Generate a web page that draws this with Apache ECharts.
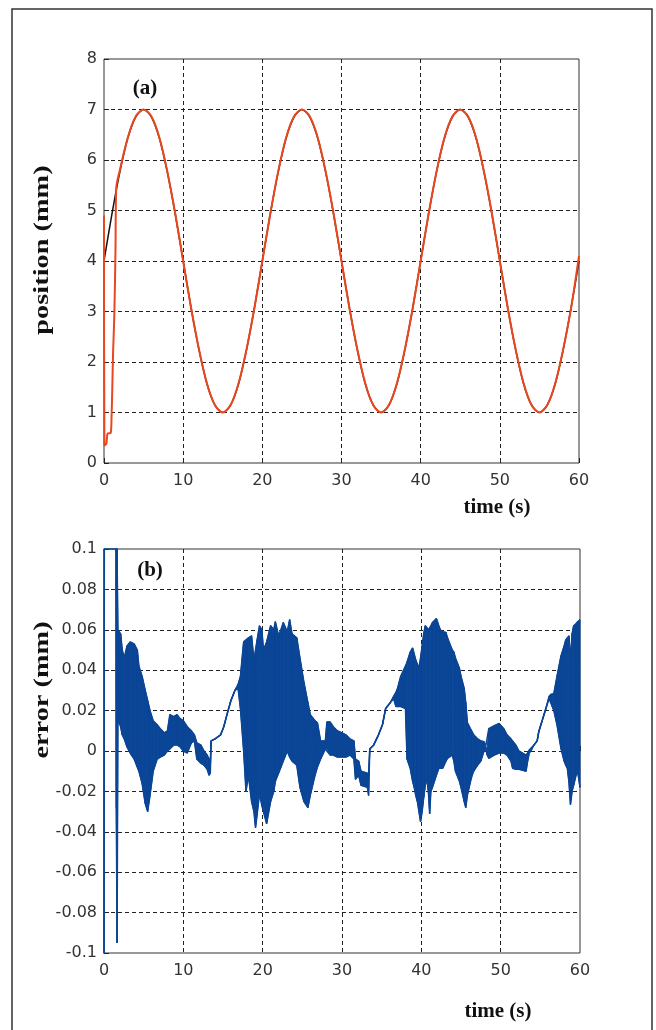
<!DOCTYPE html>
<html>
<head>
<meta charset="utf-8">
<script src="https://cdn.jsdelivr.net/npm/echarts@6/dist/echarts.min.js"></script>
<style>
  html, body { margin: 0; padding: 0; background: #fff; }
  #chart { width: 656px; height: 1030px; }
</style>
</head>
<body>
<div id="chart"></div>
<script>
// (a) position: reference (black) and measured (red)
const refTime = [0,1,2,3,4,5,6,7,8,9,10,11,12,13,14,15,16,17,18,19,20,21,22,23,24,25,26,27,28,29,30,
  31,32,33,34,35,36,37,38,39,40,41,42,43,44,45,46,47,48,49,50,51,52,53,54,55,56,57,58,59,60]
const refPos = [4.00,4.93,5.76,6.43,6.85,7.00,6.85,6.43,5.76,4.93,4.00,3.07,2.24,1.57,1.15,1.00,1.15,1.57,2.24,3.07,
  4.00,4.93,5.76,6.43,6.85,7.00,6.85,6.43,5.76,4.93,4.00,3.07,2.24,1.57,1.15,1.00,1.15,1.57,2.24,3.07,
  4.00,4.93,5.76,6.43,6.85,7.00,6.85,6.43,5.76,4.93,4.00,3.07,2.24,1.57,1.15,1.00,1.15,1.57,2.24,3.07,4.00]

const actTime = [0,0.05,0.3,0.45,0.85,0.95,1.05,1.15,1.3,1.45,1.55,2,3,4,5,6,7,8,9,10,
  11,12,13,14,15,16,17,18,19,20,21,22,23,24,25,26,27,28,29,30,
  31,32,33,34,35,36,37,38,39,40,41,42,43,44,45,46,47,48,49,50,51,52,53,54,55,56,57,58,59,60]
const actPos = [4.9,0.35,0.38,0.58,0.6,0.9,1.5,2.2,2.9,4.2,5.45,5.8,6.44,6.86,7.0,6.86,6.44,5.77,4.94,4.0,
  3.07,2.25,1.58,1.15,1.0,1.15,1.58,2.25,3.07,4.0,4.93,5.77,6.44,6.86,7.0,6.86,6.44,5.77,4.94,4.0,
  3.07,2.25,1.58,1.15,1.0,1.15,1.58,2.25,3.07,4.0,4.93,5.77,6.44,6.86,7.0,6.86,6.44,5.77,4.94,4.0,
  3.07,2.25,1.58,1.15,1.0,1.15,1.58,2.25,3.07,4.1]

// (b) tracking error: upper and lower envelope of the oscillation
const errTime = [0,0.05,1.5,1.55,1.65,1.75,2.1,2.3,2.55,2.9,3.3,3.8,4.2,4.4,4.8,5.2,5.5,5.8,6.2,6.7,7.1,7.6,8.0,8.3,8.8,9.2,9.6,10.0,
  10.5,11.0,11.4,11.7,12.2,12.6,13.0,13.25,13.4,13.5,14.0,14.7,15.1,15.5,16.0,16.5,16.9,17.2,17.6,17.9,18.2,18.6,18.9,19.1,19.3,19.6,19.9,
  20.1,20.5,21.0,21.4,21.6,22.0,22.3,22.6,23.1,23.4,23.7,24.3,24.7,25.2,25.7,26.0,26.6,26.9,27.3,27.9,28.1,28.5,28.9,29.4,30.0,
  30.5,31.0,31.5,31.7,32.1,32.4,33.2,33.35,33.5,34.0,34.6,35.1,35.5,36.1,36.5,36.8,37.0,37.4,38.0,38.2,38.6,38.9,39.1,39.3,39.5,39.7,39.9,
  40.1,40.3,40.5,40.7,40.9,41.05,41.2,41.4,41.9,42.2,42.4,42.7,43.1,43.3,43.5,43.9,44.1,44.3,44.8,45.0,45.4,45.6,45.8,46.2,46.4,46.6,47.1,
  47.5,47.9,48.1,48.3,48.5,49.2,49.8,50.4,50.8,51.3,51.5,51.9,52.3,53.2,53.4,53.6,53.8,54.2,54.6,54.8,55.7,56.1,56.3,56.7,57.1,57.6,
  58.0,58.2,58.4,58.6,58.8,59.0,59.2,59.5,59.7,60.0]
const errHi = [0.15,0.15,0.15,0.15,0.15,0.06,0.058,0.05,0.046,0.052,0.054,0.053,0.05,0.042,0.037,0.03,0.025,0.02,0.015,0.013,0.011,0.009,0.01,0.018,0.017,0.018,0.016,0.015,
  0.012,0.01,0.008,0.004,0.003,0.0,-0.002,-0.004,-0.006,0.005,0.006,0.008,0.012,0.018,0.025,0.03,0.033,0.037,0.054,0.055,0.056,0.057,0.045,0.05,0.055,0.062,0.06,
  0.05,0.054,0.062,0.06,0.064,0.057,0.06,0.0636,0.059,0.065,0.058,0.056,0.046,0.034,0.024,0.018,0.015,0.014,0.005,0.005,0.0144,0.0144,0.012,0.01,0.009,
  0.008,0.006,0.005,-0.004,-0.005,-0.01,-0.011,-0.012,0.001,0.003,0.008,0.013,0.021,0.024,0.027,0.029,0.031,0.037,0.042,0.044,0.049,0.051,0.048,0.045,0.043,0.041,0.046,
  0.052,0.058,0.062,0.061,0.06,0.061,0.062,0.0636,0.0656,0.062,0.06,0.059,0.0587,0.056,0.054,0.05,0.049,0.046,0.041,0.037,0.031,0.024,0.014,0.011,0.0095,0.008,0.006,
  0.005,0.0046,0.002,0.0013,0.011,0.0125,0.0136,0.011,0.008,0.006,0.005,0.003,0.0,-0.002,-0.001,0.0005,0.001,0.003,0.005,0.0095,0.021,0.027,0.028,0.0284,0.037,0.047,
  0.052,0.055,0.056,0.057,0.045,0.058,0.062,0.063,0.064,0.065]
const errLo = [-0.15,0.15,0.15,-0.028,-0.095,0.016,0.012,0.008,0.006,0.002,-0.001,-0.004,-0.008,-0.01,-0.016,-0.026,-0.03,-0.022,-0.01,-0.004,-0.003,-0.002,0.0,0.001,0.003,0.003,0.002,0.0,
  -0.001,0.004,0.005,-0.004,-0.006,-0.007,-0.009,-0.012,-0.011,0.005,0.006,0.008,0.012,0.018,0.025,0.03,0.031,0.021,0.0,-0.02,-0.012,-0.025,-0.03,-0.038,-0.0315,-0.021,-0.027,
  -0.03,-0.036,-0.025,-0.02,-0.015,-0.011,-0.008,-0.005,0.0,-0.003,-0.005,-0.007,-0.018,-0.025,-0.028,-0.022,-0.012,-0.008,-0.004,0.001,0.001,-0.002,-0.002,-0.003,-0.003,
  -0.003,-0.002,-0.004,-0.014,-0.012,-0.017,-0.018,-0.022,0.001,0.003,0.008,0.013,0.021,0.024,0.026,0.022,0.022,0.022,0.021,-0.004,-0.0085,-0.015,-0.018,-0.022,-0.025,-0.03,-0.035,
  -0.03,-0.023,-0.017,-0.0134,-0.021,-0.031,-0.02,-0.018,-0.012,-0.0085,-0.0085,-0.0085,-0.005,-0.0036,-0.003,-0.002,-0.005,-0.01,-0.015,-0.018,-0.025,-0.028,-0.022,-0.015,-0.012,-0.01,-0.007,
  -0.005,0.0,0.0013,-0.002,-0.0036,-0.002,-0.001,-0.001,-0.002,-0.005,-0.0085,-0.009,-0.009,-0.01,-0.005,-0.001,0.0,0.003,0.005,0.0095,0.021,0.026,0.024,0.02,0.013,0.0013,
  -0.005,-0.007,-0.0085,-0.015,-0.0266,-0.02,-0.017,-0.012,-0.01,-0.018]

const timeTicks = ['0', '10', '20', '30', '40', '50', '60']
const posTicks = ['0', '1', '2', '3', '4', '5', '6', '7', '8']
const errTicks = ['-0.1', '-0.08', '-0.06', '-0.04', '-0.02', '0', '0.02', '0.04', '0.06', '0.08', '0.1']

const RED = '#e9471e'
const BLUE = '#0b4596'
const tickFont = { color: '#333', fontSize: 16, fontFamily: 'DejaVu Sans' }
const titleFont = 'bold 21px "Liberation Serif"'
const gridLine = { show: true, showMinLine: false, showMaxLine: false, lineStyle: { color: '#222', type: [4, 3], width: 1 } }

function timeAxis(gridIndex) {
  return {
    type: 'value', gridIndex, min: 0, max: 60, interval: 10,
    axisLine: { show: false },
    axisTick: { show: true, inside: true, length: 5, lineStyle: { color: '#222' } },
    axisLabel: { ...tickFont, margin: 10, formatter: v => timeTicks[Math.round(v / 10)] },
    splitLine: gridLine
  }
}

// filled band between the two envelopes, one quad per interval
function renderBand(params, api) {
  const i = params.dataIndex
  if (i >= errTime.length - 1) return null
  const c = v => Math.max(-0.1, Math.min(0.1, v))
  const pts = [
    api.coord([errTime[i], c(errHi[i])]),
    api.coord([errTime[i + 1], c(errHi[i + 1])]),
    api.coord([errTime[i + 1], c(errLo[i + 1])]),
    api.coord([errTime[i], c(errLo[i])])
  ]
  return { type: 'polygon', shape: { points: pts }, style: { fill: BLUE, stroke: BLUE, lineWidth: 1 } }
}

const chart = echarts.init(document.getElementById('chart'), null, { renderer: 'canvas' })
chart.setOption({
  animation: false,
  backgroundColor: '#fff',
  grid: [
    { left: 104, top: 59, width: 475, height: 404, show: true, borderColor: '#333', borderWidth: 1 },
    { left: 104, top: 549, width: 476, height: 404, show: true, borderColor: '#333', borderWidth: 1 }
  ],
  xAxis: [timeAxis(0), timeAxis(1)],
  yAxis: [
    {
      type: 'value', gridIndex: 0, min: 0, max: 8, interval: 1,
      axisLine: { show: false },
      axisTick: { show: true, inside: true, length: 5, lineStyle: { color: '#222' } },
      axisLabel: { ...tickFont, margin: 7, formatter: v => posTicks[Math.round(v)] },
      splitLine: gridLine
    },
    {
      type: 'value', gridIndex: 1, min: -0.1, max: 0.1, interval: 0.02,
      axisLine: { show: false },
      axisTick: { show: true, inside: true, length: 5, lineStyle: { color: '#222' } },
      axisLabel: { ...tickFont, margin: 7, formatter: v => errTicks[Math.round((v + 0.1) / 0.02)] },
      splitLine: gridLine
    }
  ],
  series: [
    {
      name: 'reference', type: 'line', xAxisIndex: 0, yAxisIndex: 0,
      symbol: 'none', smooth: 0.3, lineStyle: { color: '#111', width: 1.5 },
      data: refTime.map((t, i) => [t, refPos[i]])
    },
    {
      name: 'position', type: 'line', xAxisIndex: 0, yAxisIndex: 0,
      symbol: 'none', smooth: 0.3, lineStyle: { color: RED, width: 2 },
      data: actTime.map((t, i) => [t, actPos[i]])
    },
    {
      name: 'errBand', type: 'custom', xAxisIndex: 1, yAxisIndex: 1,
      renderItem: renderBand, encode: { x: 0, y: [1, 2] },
      data: errTime.map((t, i) => [t, errHi[i], errLo[i]])
    },
    {
      name: 'errHi', type: 'line', xAxisIndex: 1, yAxisIndex: 1,
      symbol: 'none', lineStyle: { color: BLUE, width: 1.5 },
      data: errTime.map((t, i) => [t, errHi[i]])
    },
    {
      name: 'errLo', type: 'line', xAxisIndex: 1, yAxisIndex: 1,
      symbol: 'none', lineStyle: { color: BLUE, width: 1.5 },
      data: errTime.map((t, i) => [t, errLo[i]])
    }
  ],
  graphic: [
    { type: 'rect', shape: { x: 12, y: 9, width: 640, height: 1040 }, style: { fill: 'none', stroke: '#333', lineWidth: 1.5 } },
    { type: 'text', x: 145, y: 89, style: { text: '(a)', font: titleFont, fill: '#111', textAlign: 'center', textVerticalAlign: 'middle' } },
    { type: 'text', x: 150, y: 571, style: { text: '(b)', font: titleFont, fill: '#111', textAlign: 'center', textVerticalAlign: 'middle' } },
    { type: 'text', x: 497, y: 508, style: { text: 'time (s)', font: titleFont, fill: '#111', textAlign: 'center', textVerticalAlign: 'middle' } },
    { type: 'text', x: 498, y: 1012, style: { text: 'time (s)', font: titleFont, fill: '#111', textAlign: 'center', textVerticalAlign: 'middle' } },
    { type: 'text', x: 43, y: 250, rotation: Math.PI / 2, scaleX: 1.35, style: { text: 'position (mm)', font: titleFont, fill: '#111', textAlign: 'center', textVerticalAlign: 'middle' } },
    { type: 'text', x: 43, y: 690, rotation: Math.PI / 2, scaleX: 1.35, style: { text: 'error (mm)', font: titleFont, fill: '#111', textAlign: 'center', textVerticalAlign: 'middle' } }
  ]
})
</script>
</body>
</html>
